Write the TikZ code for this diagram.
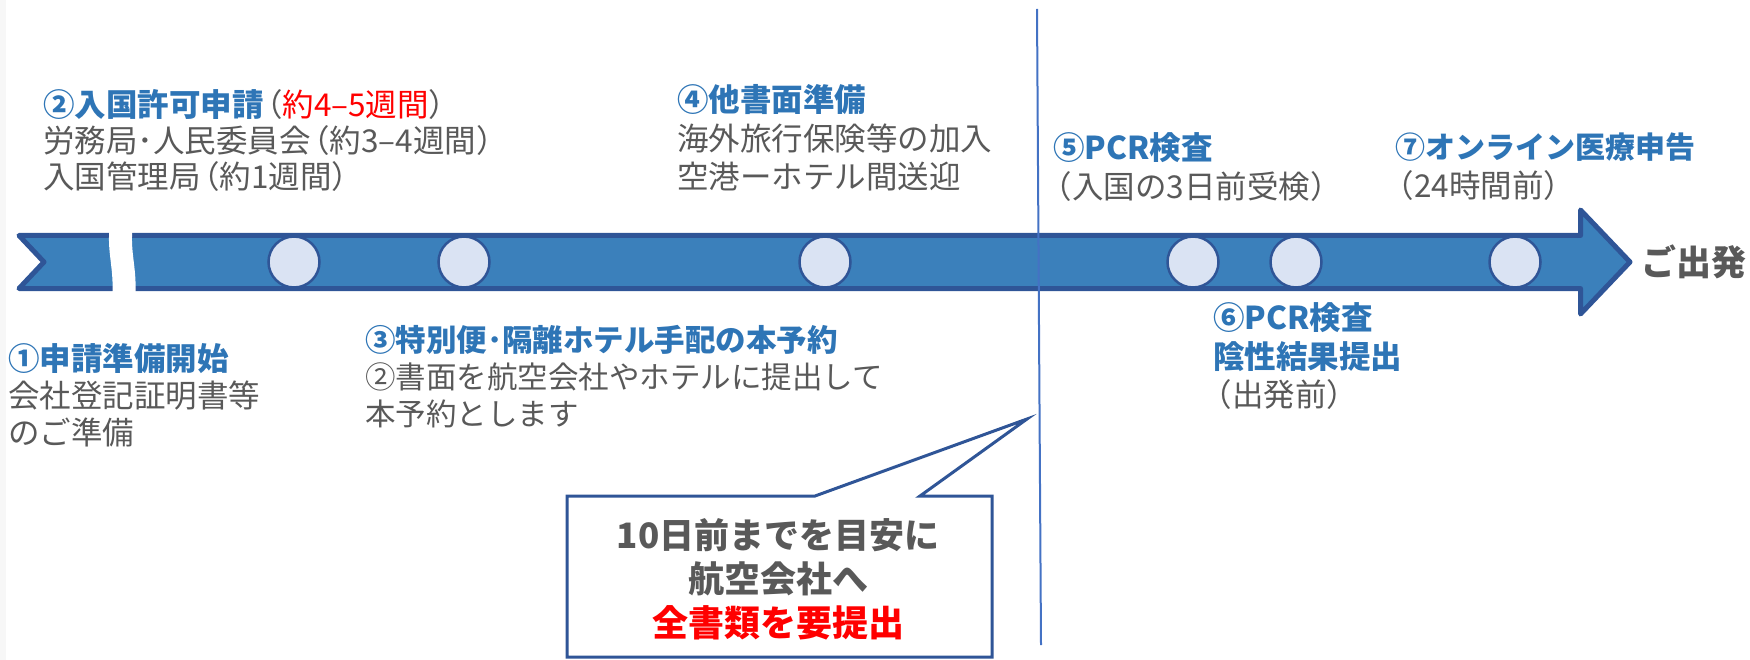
\documentclass[tikz,border=0pt]{standalone}
\usepackage{fontspec}
\setmainfont{Noto Sans CJK JP}
\definecolor{tblue}{RGB}{46,117,182}
\definecolor{tgray}{RGB}{89,89,89}
\definecolor{bodyfill}{RGB}{59,128,187}
\definecolor{border}{RGB}{47,85,151}
\definecolor{cfill}{RGB}{218,227,243}
\definecolor{vblue}{RGB}{68,114,196}
\definecolor{tred}{RGB}{255,0,0}
\newcommand\ttl[1]{{\bfseries\color{tblue}#1}}
\newcommand\op{\kern-.4em（}
\begin{document}
\begin{tikzpicture}[x=1pt,y=-1pt,
  blk/.style={anchor=north west, inner sep=0pt, align=left, text=tgray, font=\fontsize{31.5}{#1}\selectfont},
  dot/.style={circle, minimum size=51pt, inner sep=0pt, fill=cfill, draw=border, line width=2.5pt},
  arrowbody/.style={fill=bodyfill, draw=border, line width=5pt, line join=round},
  vline/.style={draw=vblue, line width=2pt},
  callout/.style={fill=white, draw=border, line width=3pt, line join=miter}]
\useasboundingbox (0,0) rectangle (1750,660);
\fill[black!3] (0,0) rectangle (6,660);
% timeline arrow
\draw[arrowbody] (19,235.5) -- (1580.5,235.5) -- (1580.5,210) -- (1630,262) -- (1580.5,314) -- (1580.5,288.5) -- (19,288.5) -- (44,262) -- cycle;
\fill[white] (110,226) .. controls (106,250) and (115,270) .. (112,299) -- (135,299) .. controls (138,270) and (129,250) .. (133,226) -- cycle;
% milestones
\node[dot] (c1) at (294,262) {};
\node[dot] (c2) at (464,262) {};
\node[dot] (c3) at (825,262) {};
\node[dot] (c4) at (1193,262) {};
\node[dot] (c5) at (1296,262) {};
\node[dot] (c6) at (1515,262) {};
% vertical line
\coordinate (vtop) at (1037,9);
\coordinate (vbot) at (1041,645);
\draw[vline] (vtop) -- (vbot);
% callout
\draw[callout] (567,496) -- (815,496) -- (1027,419) -- (920,496) -- (992,496) -- (992,657) -- (567,657) -- cycle;
\node[align=center, inner sep=0pt, text=tgray, font=\fontsize{36}{44}\selectfont\bfseries] (co) at (778,579)
  {{\fontsize{35}{44}\selectfont 10日前までを目安に}\\航空会社へ\\\textcolor{tred}{全書類を要提出}};
% end label
\node[anchor=west, inner sep=0pt, text=tgray, font=\fontsize{35}{40}\selectfont\bfseries] (dep) at (1641,262) {ご出発};
% text blocks
\node[blk=37] (t1) at (8,343.5) {\ttl{①申請準備開始}\\会社登記証明書等\\のご準備};
\node[blk=36] (t2) at (43,89.5) {\ttl{②入国許可申請}\op\textcolor{tred}{約4–5週間}）\\労務局･人民委員会\op 約3–4週間）\\入国管理局\op 約1週間）};
\node[blk=37, font=\fontsize{30.5}{37}\selectfont] (t3) at (365,325) {\ttl{③特別便･隔離ホテル手配の本予約}\\②書面を航空会社やホテルに提出して\\本予約とします};
\node[blk=38.5] (t4) at (677,84.5) {\ttl{④他書面準備}\\海外旅行保険等の加入\\空港ーホテル間送迎};
\node[blk=39] (t5) at (1053,132.5) {\ttl{⑤PCR検査}\\\op 入国の3日前受検）};
\node[blk=39] (t7) at (1395,132.5) {\ttl{{\fontsize{30}{39}\selectfont ⑦オンライン医療申告}}\\\op 24時間前）};
\node[blk=38.5] (t6) at (1213,302.5) {\ttl{⑥PCR検査}\\\ttl{陰性結果提出}\\\op 出発前）};
\end{tikzpicture}
\end{document}
